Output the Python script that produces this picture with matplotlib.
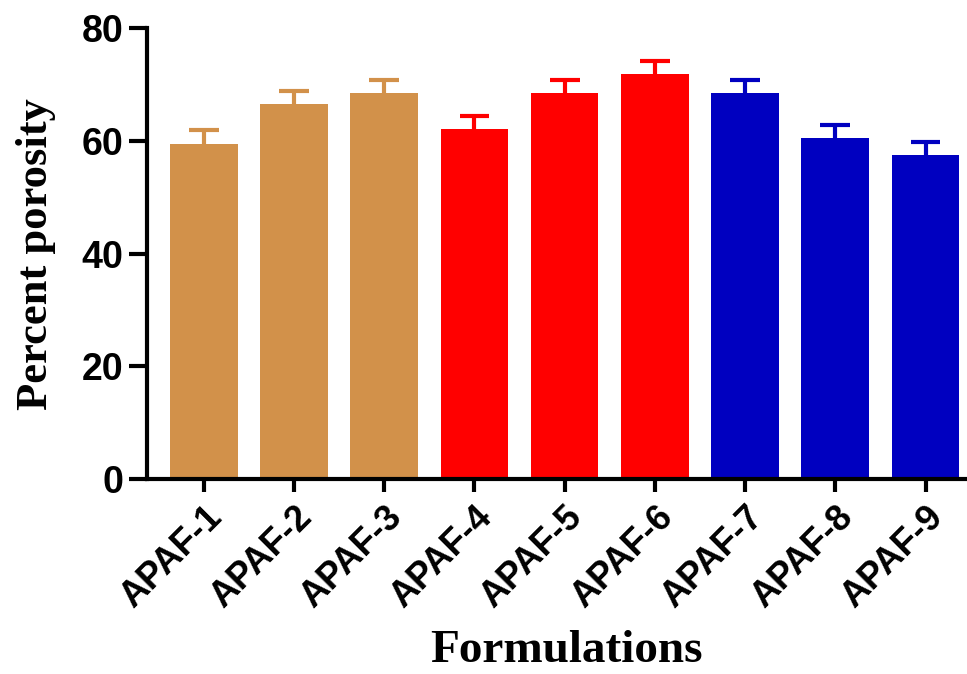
import matplotlib.pyplot as plt
import numpy as np

# values
formulations = ["APAF-1", "APAF-2", "APAF-3", "APAF-4", "APAF-5",
                "APAF-6", "APAF-7", "APAF-8", "APAF-9"]
porosity = [59.5, 66.5, 68.6, 62.1, 68.6, 71.9, 68.6, 60.5, 57.5]
sd = [2.4, 2.4, 2.3, 2.4, 2.3, 2.3, 2.3, 2.3, 2.4]
colors = ["#D2914A"] * 3 + ["#FF0000"] * 3 + ["#0000C0"] * 3
y_ticks = [0, 20, 40, 60, 80]

fig = plt.figure(figsize=(9.67, 6.74), dpi=100)
ax = fig.add_axes([0.152, 0.289, 0.848, 0.669])

x = np.arange(len(formulations))
ax.bar(x, porosity, width=0.75, color=colors, zorder=2)
# upper-only error bars with a single cap
top = np.array(porosity) + np.array(sd)
ax.vlines(x, porosity, top, colors=colors, linewidth=3, zorder=1)
ax.hlines(top, x - 0.165, x + 0.165, colors=colors, linewidth=3, zorder=1)

ax.set_xlim(-0.63, 8.46)
ax.set_ylim(0, 80)
ax.set_yticks(y_ticks)
ax.set_xticks(x)
ax.set_xticklabels(formulations, rotation=45, ha="right", rotation_mode="anchor",
                   fontsize=26, fontweight="bold", family="Liberation Sans")
ax.set_yticklabels([str(t) for t in y_ticks], fontsize=27, fontweight="bold",
                   family="Liberation Sans")

for side in ["top", "right"]:
    ax.spines[side].set_visible(False)
for side in ["left", "bottom"]:
    ax.spines[side].set_linewidth(3)
ax.tick_params(axis="y", length=13, width=3, pad=4)
ax.tick_params(axis="x", length=9, width=3, pad=6)

fig.text(566 / 967, 0.018, "Formulations", fontsize=34, fontweight="bold",
         family="Liberation Serif", ha="center", va="baseline")
ax.set_ylabel("Percent porosity", fontsize=32, fontweight="bold",
              family="Liberation Serif", labelpad=18)

fig.savefig("out.png", dpi=100)
